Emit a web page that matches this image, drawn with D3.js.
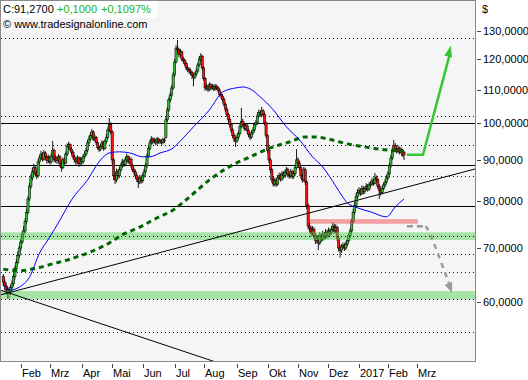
<!DOCTYPE html>
<html><head><meta charset="utf-8">
<script src="https://cdn.jsdelivr.net/npm/d3@7"></script>
<style>
body{margin:0;background:#fff}
svg{display:block}
text{font-family:"Liberation Sans",Arial,sans-serif;font-size:11px;fill:#000}
</style>
</head><body>
<svg id="chart" width="528" height="380"></svg>
<script>
// ---------- DATA ----------
const startDate = "2016-01-13";
const holidays = ["2016-01-18","2016-02-15","2016-03-25","2016-05-30","2016-07-04","2016-09-05","2016-11-24","2016-12-26","2017-01-02","2017-01-16"];
const tickMonths = ["2016-02","2016-03","2016-04","2016-05","2016-06","2016-07","2016-08","2016-09","2016-10","2016-11","2016-12","2017-01","2017-02","2017-03"];
const tickLabels = ["Feb","Mrz","Apr","Mai","Jun","Jul","Aug","Sep","Okt","Nov","Dez","2017","Feb","Mrz"];
const yTicks = [60,70,80,90,100,110,120,130];

const open = [
64.5,63.5,62.8,62.2,61.6,61.8,62.5,63.2,64.5,66.0,
67.2,68.5,70.0,71.2,72.8,73.5,75.5,77.5,80.5,83.5,
85.5,87.0,88.0,86.5,86.0,89.5,90.5,91.5,90.2,91.8,
90.8,89.8,90.6,89.5,91.0,92.5,90.0,90.5,89.8,90.8,
89.0,88.0,90.0,89.2,91.5,93.5,94.0,92.8,92.0,90.8,
90.0,89.5,90.5,89.0,90.2,89.5,90.8,91.5,92.5,94.5,
95.5,96.5,97.5,95.5,96.0,94.5,93.2,92.8,93.5,94.5,
93.0,94.8,96.0,98.0,99.5,97.5,90.0,86.0,85.0,87.0,
86.0,87.5,88.5,89.5,88.8,90.0,90.8,89.5,90.2,88.5,
87.5,87.0,86.0,85.2,84.5,85.5,84.8,86.0,87.0,88.5,
91.0,93.0,94.5,95.5,94.8,95.2,94.5,95.5,94.8,95.0,
94.6,95.3,96.0,100.9,103.8,106.8,108.3,110.5,114.7,119.0,
123.8,123.2,121.5,122.5,120.0,119.5,118.5,117.0,116.5,116.0,
115.5,114.5,114.0,115.0,116.0,118.0,120.0,121.0,117.0,113.5,
110.5,111.0,110.0,111.5,110.5,111.0,110.2,111.0,110.5,109.8,
108.5,108.0,107.0,105.5,104.0,102.5,101.0,99.5,98.0,96.5,
95.5,95.0,96.0,97.0,99.0,100.5,99.5,98.5,99.2,97.8,
96.8,96.0,97.2,98.0,99.5,100.0,102.0,103.0,102.5,103.5,
102.5,100.0,96.5,92.5,90.0,87.5,85.0,84.0,84.8,84.0,
85.5,86.0,85.2,86.5,86.0,86.8,87.5,86.2,86.0,87.0,
85.8,86.5,88.0,90.0,89.2,88.0,86.0,85.0,87.5,84.5,
79.0,74.5,74.0,73.0,73.8,72.5,71.5,72.0,71.0,72.5,
71.8,72.8,72.2,73.2,72.5,73.5,73.0,73.8,74.5,73.5,
74.2,72.0,70.0,69.5,70.2,70.5,70.0,70.8,71.5,72.5,
73.5,75.5,77.5,79.0,81.0,82.0,82.5,81.8,83.0,82.2,
82.8,83.5,82.8,83.8,84.0,84.8,84.2,85.5,85.0,83.5,
82.5,82.0,83.0,83.8,84.5,85.5,86.5,88.5,90.5,92.5,
93.8,92.8,92.2,93.0,92.0,92.6,92.0];
const high = [
65.0,64.0,63.4,62.8,62.5,63.0,63.8,65.0,66.6,67.8,
69.3,70.6,71.9,73.4,74.5,76.2,78.3,81.2,84.3,86.4,
88.0,89.0,88.6,87.2,90.2,91.3,92.4,92.0,92.6,92.2,
91.2,91.4,91.0,91.8,95.0,93.0,91.2,91.0,91.5,91.2,
89.6,90.6,90.5,92.2,94.3,94.8,94.4,93.4,92.5,91.3,
90.7,91.2,90.9,90.8,90.7,91.4,92.2,93.2,95.2,96.4,
97.3,98.3,97.9,96.8,96.4,95.0,93.8,94.2,95.2,95.0,
95.5,96.8,98.8,101.4,100.2,98.0,90.5,86.8,87.8,87.6,
88.2,89.2,90.3,90.0,90.8,91.6,91.2,90.9,90.6,89.0,
88.1,87.5,86.6,85.8,86.2,86.0,86.7,87.7,89.2,91.7,
93.8,95.3,96.3,96.0,95.9,95.7,96.1,95.9,95.6,95.5,
95.9,95.8,101.6,104.6,107.6,109.3,111.5,115.6,120.0,124.8,
126.7,124.0,123.5,123.0,120.8,120.2,119.0,117.8,117.2,116.8,
116.0,115.2,115.8,116.9,118.8,120.9,122.0,121.5,117.6,114.0,
111.9,111.6,112.3,112.0,111.8,111.6,111.8,111.6,111.0,110.3,
109.2,108.6,107.6,106.0,104.6,103.0,101.6,100.1,98.6,97.2,
96.2,96.8,97.8,99.8,104.4,101.2,100.1,99.9,99.7,98.4,
97.4,97.9,98.8,100.2,100.8,102.8,103.9,103.7,104.7,104.0,
103.0,100.5,97.0,93.0,90.5,88.0,85.7,85.5,85.4,86.2,
86.8,86.6,87.2,87.1,87.5,88.2,88.0,86.9,87.7,87.4,
87.2,88.8,92.8,90.6,89.7,88.5,86.6,88.2,88.0,85.0,
79.5,75.3,74.6,74.5,74.3,73.0,72.7,72.5,73.2,73.0,
73.5,73.3,73.9,73.7,74.2,74.0,74.5,75.3,75.0,74.9,
74.6,72.4,70.6,70.8,71.1,71.0,71.4,72.1,73.1,74.1,
76.1,78.2,79.8,81.8,82.8,83.3,83.0,83.7,83.5,83.4,
84.2,84.0,84.5,84.7,85.5,85.3,86.7,86.1,85.5,84.0,
83.1,83.6,84.4,85.2,86.2,87.2,89.2,91.3,93.3,95.3,
94.4,93.5,93.7,93.5,93.3,92.9,92.4];
const low = [
62.8,62.0,61.3,60.5,60.6,61.2,61.9,62.8,64.0,65.4,
66.8,68.0,69.4,70.8,72.0,73.0,75.0,77.0,80.0,82.8,
84.8,86.2,85.8,85.2,85.6,88.8,90.0,89.6,89.8,90.1,
89.0,89.2,88.8,89.0,90.6,89.4,89.3,89.0,89.3,88.2,
87.0,87.6,88.5,88.9,91.0,92.8,92.2,91.3,90.2,89.3,
88.7,89.0,88.2,88.6,88.8,89.0,90.3,91.0,92.0,94.0,
95.0,96.0,95.0,94.9,93.9,92.6,92.0,92.3,93.0,92.4,
92.6,94.3,95.5,97.5,96.8,89.0,85.0,84.0,84.4,85.2,
85.5,87.0,88.0,88.2,88.4,89.5,89.0,89.0,88.0,86.9,
86.3,85.3,84.5,83.1,84.0,84.1,84.3,85.5,86.6,88.0,
90.6,92.5,94.0,94.1,94.3,93.9,94.0,94.2,94.2,94.0,
94.1,94.4,95.6,100.3,103.2,106.0,107.7,110.0,114.0,118.5,
122.0,120.5,120.8,119.2,118.6,117.6,116.2,115.6,115.0,114.6,
113.4,111.0,113.3,114.4,115.5,117.4,119.3,116.3,112.8,109.6,
109.8,109.2,109.5,109.8,109.9,109.5,109.7,109.8,109.0,107.8,
107.2,106.2,104.8,103.2,101.8,100.2,98.7,97.2,95.8,94.7,
93.4,94.5,95.5,96.5,98.5,98.8,97.8,97.9,97.0,96.0,
95.2,95.6,96.7,97.5,98.9,99.5,101.4,101.8,102.0,101.8,
99.3,95.8,91.8,89.2,86.7,84.3,83.4,83.5,83.3,83.6,
85.0,84.6,84.8,85.4,85.5,86.3,85.6,85.3,85.5,85.2,
85.3,86.0,87.6,88.5,87.3,85.3,84.3,84.6,83.8,78.2,
73.8,73.2,72.2,72.5,71.8,70.8,70.9,69.6,70.6,71.2,
71.4,71.6,71.8,71.9,72.1,72.4,72.6,73.3,72.9,73.0,
71.4,69.3,68.1,69.0,69.7,69.4,69.6,70.4,71.1,72.1,
73.1,75.1,77.0,78.5,80.5,81.4,81.2,81.4,81.6,81.7,
82.4,82.2,82.4,83.2,83.6,83.6,83.9,84.4,82.8,80.5,
81.3,81.6,82.6,83.3,84.1,85.0,86.1,88.0,90.0,92.0,
92.2,91.6,91.8,91.4,91.6,90.8,90.0];
const close = [
63.5,62.8,62.2,61.6,61.8,62.5,63.2,64.5,66.0,67.2,
68.5,70.0,71.2,72.8,73.5,75.5,77.5,80.5,83.5,85.5,
87.0,88.0,86.5,86.0,89.5,90.5,91.5,90.2,91.8,90.8,
89.8,90.6,89.5,91.0,92.5,90.0,90.5,89.8,90.8,89.0,
88.0,90.0,89.2,91.5,93.5,94.0,92.8,92.0,90.8,90.0,
89.5,90.5,89.0,90.2,89.5,90.8,91.5,92.5,94.5,95.5,
96.5,97.5,95.5,96.0,94.5,93.2,92.8,93.5,94.5,93.0,
94.8,96.0,98.0,99.5,97.5,90.0,86.0,85.0,87.0,86.0,
87.5,88.5,89.5,88.8,90.0,90.8,89.5,90.2,88.5,87.5,
87.0,86.0,85.2,84.5,85.5,84.8,86.0,87.0,88.5,91.0,
93.0,94.5,95.5,94.8,95.2,94.5,95.5,94.8,95.0,94.6,
95.3,95.0,100.9,103.8,106.8,108.3,110.5,114.7,119.0,123.8,
123.2,121.5,122.5,120.0,119.5,118.5,117.0,116.5,116.0,115.5,
114.5,114.0,115.0,116.0,118.0,120.0,121.0,117.0,113.5,110.5,
111.0,110.0,111.5,110.5,111.0,110.2,111.0,110.5,109.8,108.5,
108.0,107.0,105.5,104.0,102.5,101.0,99.5,98.0,96.5,95.5,
95.0,96.0,97.0,99.0,100.5,99.5,98.5,99.2,97.8,96.8,
96.0,97.2,98.0,99.5,100.0,102.0,103.0,102.5,103.5,102.5,
100.0,96.5,92.5,90.0,87.5,85.0,84.0,84.8,84.0,85.5,
86.0,85.2,86.5,86.0,86.8,87.5,86.2,86.0,87.0,85.8,
86.5,88.0,90.0,89.2,88.0,86.0,85.0,87.5,84.5,79.0,
74.5,74.0,73.0,73.8,72.5,71.5,72.0,71.0,72.5,71.8,
72.8,72.2,73.2,72.5,73.5,73.0,73.8,74.5,73.5,74.2,
72.0,70.0,69.5,70.2,70.5,70.0,70.8,71.5,72.5,73.5,
75.5,77.5,79.0,81.0,82.0,82.5,81.8,83.0,82.2,82.8,
83.5,82.8,83.8,84.0,84.8,84.2,85.5,85.0,83.5,82.5,
82.0,83.0,83.8,84.5,85.5,86.5,88.5,90.5,92.5,93.8,
92.8,92.2,93.0,92.0,92.6,91.17,91.27];

// moving averages (trading-day index, value)
const maFastIdx = [0,5,11,18,25,32,39,47,58,67,73,80,87,96,101,108,117,122,131,142,151,160,165,170,177,186,195,204,213,220,225,233,237,244,253,264,270,276];
const maFastVal = [63.0,62.1,62.6,64.4,69.0,72.2,75.8,80.3,85.0,90.0,91.8,92.1,91.8,90.8,90.8,91.8,93.1,95.0,98.9,103.8,109.2,110.5,110.8,110.2,107.7,103.8,98.9,95.3,90.8,88.2,85.7,81.4,79.6,78.5,77.6,76.5,78.7,80.5];
const maSlowIdx = [0,11,23,34,46,58,73,82,94,106,117,129,142,154,170,186,197,208,215,226,237,249,259,273,276];
const maSlowVal = [65.9,65.6,66.1,66.9,67.8,69.0,71.0,72.7,74.3,76.3,78.0,81.2,85.0,87.9,90.8,93.4,94.7,96.1,96.1,95.3,94.2,93.4,92.8,92.3,92.2];

// horizontal levels
const solidLevels = [99.9, 88.7, 78.8];
const dottedLevels = [127.4, 102.0, 93.9, 72.4, 60.5];
const blueDottedLevels = [86.0, 68.75, 65.3, 55.0];
const greenZones = [[71.6, 73.2], [60.5, 61.9]];
const pinkZoneIdx = [211, 285.6];
const pinkZoneVal = [75.0, 76.0];

// trend lines [index, value]
const trendUp = [[-2.3, 61.2], [325, 87.7]];
const trendDown = [[-2.3, 62.1], [150, 50.3]];

// forecast arrows [index, value]
const greenArrow = [[278, 91.3], [289.1, 91.3], [308.3, 124.6]];
const grayArrow = [[278, 74.5], [291.1, 74.5], [295.2, 72.2], [301.4, 67.3], [309, 61.6]];

// ---------- SCALES ----------
const svg = d3.select("#chart");
const PL = 1, PR = 475, PT = 1, PB = 361;

const hol = new Set(holidays);
const dates = [];
{
  const d = new Date(startDate + "T00:00:00Z");
  while (dates.length < 340) {
    const s = d.toISOString().slice(0, 10);
    const wd = d.getUTCDay();
    if (wd !== 0 && wd !== 6 && !hol.has(s)) dates.push(s);
    d.setUTCDate(d.getUTCDate() + 1);
  }
}
const x = d3.scaleLinear().domain([0, 265]).range([3.3, 388]);
const y = d3.scaleLog().domain([60, 130]).range([302, 31]);

// ---------- BACKGROUND ----------
svg.append("rect").attr("x", PL).attr("y", PT).attr("width", PR - PL).attr("height", PB - PT).attr("fill", "#f5f5f5");

svg.append("defs").append("clipPath").attr("id", "clip")
  .append("rect").attr("x", PL).attr("y", PT).attr("width", PR - PL).attr("height", PB - PT);
const g = svg.append("g").attr("clip-path", "url(#clip)");

const py = v => Math.round(y(v)) + 0.5;

// dotted levels
g.selectAll(".dot").data(dottedLevels).join("line")
  .attr("x1", PL).attr("x2", PR).attr("y1", py).attr("y2", py)
  .attr("stroke", "#000").attr("stroke-dasharray", "1,3").attr("stroke-width", 1);
g.selectAll(".bdot").data(blueDottedLevels).join("line")
  .attr("x1", PL).attr("x2", PR).attr("y1", py).attr("y2", py)
  .attr("stroke", "#0000ee").attr("stroke-dasharray", "1,3").attr("stroke-width", 1);
g.selectAll(".sol").data(solidLevels).join("line")
  .attr("x1", PL).attr("x2", PR).attr("y1", py).attr("y2", py)
  .attr("stroke", "#000").attr("stroke-width", 1);

// ---------- CANDLES ----------
const candles = close.map((c, i) => ({i, o: open[i], h: high[i], l: low[i], c}));
const cg = g.append("g");
cg.selectAll(".wick").data(candles).join("line")
  .attr("x1", d => x(d.i)).attr("x2", d => x(d.i))
  .attr("y1", d => y(d.h)).attr("y2", d => y(d.l))
  .attr("stroke", "#000").attr("stroke-width", 0.9);
cg.selectAll(".body").data(candles).join("rect")
  .attr("x", d => x(d.i) - 1.1).attr("width", 2.2)
  .attr("y", d => y(Math.max(d.o, d.c)))
  .attr("height", d => Math.max(1, Math.abs(y(d.o) - y(d.c))))
  .attr("fill", d => d.c >= d.o ? "#2fc02f" : "#ff1010")
  .attr("stroke", "#000").attr("stroke-width", 0.55);

// ---------- ZONES (translucent, over candles) ----------
g.selectAll(".gz").data(greenZones).join("rect")
  .attr("x", PL).attr("width", PR - PL)
  .attr("y", d => y(d[1])).attr("height", d => y(d[0]) - y(d[1]))
  .attr("fill", "#5ad25a").attr("opacity", 0.5);
g.append("rect")
  .attr("x", x(pinkZoneIdx[0])).attr("width", x(pinkZoneIdx[1]) - x(pinkZoneIdx[0]))
  .attr("y", y(pinkZoneVal[1])).attr("height", y(pinkZoneVal[0]) - y(pinkZoneVal[1]))
  .attr("fill", "#f05050").attr("opacity", 0.5);
g.selectAll(".dot2").data(dottedLevels.filter(v => v < 75)).join("line")
  .attr("x1", PL).attr("x2", PR).attr("y1", py).attr("y2", py)
  .attr("stroke", "#000").attr("stroke-dasharray", "1,3").attr("stroke-width", 1);

// ---------- TREND LINES ----------
const lineP = d3.line().x(d => x(d[0])).y(d => y(d[1]));
[trendUp, trendDown].forEach(t => g.append("path").attr("d", lineP(t))
  .attr("fill", "none").attr("stroke", "#000").attr("stroke-width", 1));

// ---------- MOVING AVERAGES ----------
const maLine = d3.line().x(d => x(d[0])).y(d => y(d[1])).curve(d3.curveMonotoneX);
g.append("path").attr("d", maLine(maSlowIdx.map((v, k) => [v, maSlowVal[k]])))
  .attr("fill", "none").attr("stroke", "#006400").attr("stroke-width", 3).attr("stroke-dasharray", "5,4");
g.append("path").attr("d", maLine(maFastIdx.map((v, k) => [v, maFastVal[k]])))
  .attr("fill", "none").attr("stroke", "#0000ff").attr("stroke-width", 1);

// ---------- ARROWS ----------
function head(pts, color, len, hw) {
  const a = pts[pts.length - 1], b = pts[pts.length - 2];
  const tx = x(a[0]), ty = y(a[1]), fx = x(b[0]), fy = y(b[1]);
  const ang = Math.atan2(ty - fy, tx - fx);
  const bx = tx - len * Math.cos(ang), by = ty - len * Math.sin(ang);
  const nx = -Math.sin(ang) * hw, ny = Math.cos(ang) * hw;
  g.append("path").attr("d", `M${tx},${ty}L${bx + nx},${by + ny}L${bx - nx},${by - ny}Z`).attr("fill", color);
}
g.append("path").attr("d", lineP(greenArrow.slice(0, -1).concat([[greenArrow[2][0] - 0.5, greenArrow[2][1] / 1.02]])))
  .attr("fill", "none").attr("stroke", "#35c835").attr("stroke-width", 2.5);
head(greenArrow, "#35c835", 11, 4);

g.append("path").attr("d", lineP(grayArrow.slice(0, 2)))
  .attr("fill", "none").attr("stroke", "#9a9a9a").attr("stroke-width", 2.5).attr("stroke-dasharray", "6,4");
g.append("path").attr("d", d3.line().x(d => x(d[0])).y(d => y(d[1])).curve(d3.curveBasis)(grayArrow.slice(1, -1).concat([[307.5, 63.0]])))
  .attr("fill", "none").attr("stroke", "#9a9a9a").attr("stroke-width", 2.5).attr("stroke-dasharray", "5,5");
head(grayArrow, "#9a9a9a", 10, 4);

// ---------- FRAME ----------
svg.append("rect").attr("x", 0.5).attr("y", 0.5).attr("width", PR).attr("height", PB)
  .attr("fill", "none").attr("stroke", "#8a8a8a").attr("stroke-width", 1);

// ---------- HEADER ----------
svg.append("rect").attr("x", 1).attr("y", 1).attr("width", 156).attr("height", 17).attr("fill", "#fff");
svg.append("text").attr("x", 3).attr("y", 13).text("C:91,2700");
svg.append("text").attr("x", 57).attr("y", 13).style("fill", "#19b419").text("+0,1000");
svg.append("text").attr("x", 101).attr("y", 13).style("fill", "#19b419").text("+0,1097%");
svg.append("text").attr("x", 3).attr("y", 28).text("\u00A9 www.tradesignalonline.com");

// ---------- RIGHT AXIS ----------
const ra = svg.append("g");
ra.selectAll("line").data(yTicks).join("line")
  .attr("x1", 477).attr("x2", 481).attr("y1", py).attr("y2", py)
  .attr("stroke", "#444").attr("shape-rendering", "crispEdges");
ra.selectAll("text").data(yTicks).join("text")
  .attr("x", 483).attr("y", d => y(d) + 4)
  .text(d => d3.format(".4f")(d).replace(".", ","));
svg.append("text").attr("x", 482).attr("y", 13).text("$");

// ---------- BOTTOM AXIS ----------
const tickIdx = tickMonths.map(m => dates.findIndex(s => s.startsWith(m)));
const ba = svg.append("g");
ba.selectAll("line").data(tickIdx).join("line")
  .attr("x1", d => Math.round(x(d)) + 0.5).attr("x2", d => Math.round(x(d)) + 0.5)
  .attr("y1", 364).attr("y2", 368).attr("stroke", "#444");
ba.selectAll("text").data(tickIdx).join("text")
  .attr("x", d => Math.round(x(d)) + 1).attr("y", 377)
  .text((d, k) => tickLabels[k]);
</script>
</body></html>
